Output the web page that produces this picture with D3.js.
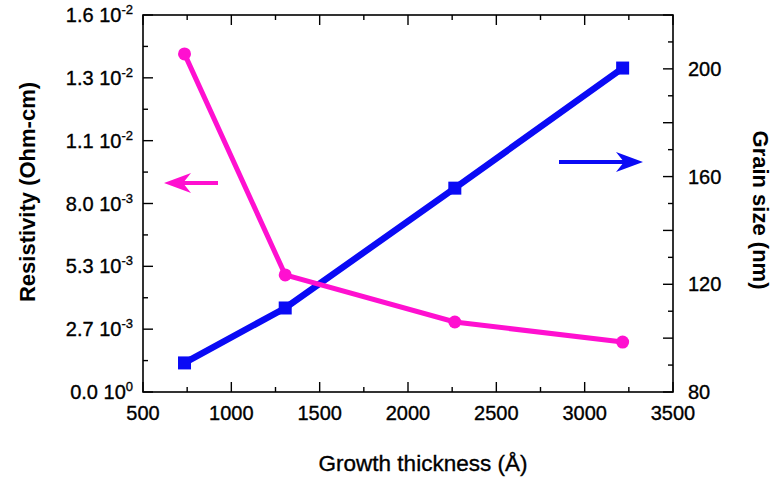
<!DOCTYPE html>
<html>
<head>
<meta charset="utf-8">
<script src="https://cdn.jsdelivr.net/npm/d3@7"></script>
<style>
  body { margin: 0; background: #fff; }
  svg { font-family: "Liberation Sans", Arial, sans-serif; }
  .lbl { stroke: #000; stroke-width: 0.35px; }
</style>
</head>
<body>
<svg id="chart" width="776" height="480"></svg>
<script>
"use strict";

// data
var thickness = [735, 1305, 2265, 3215];
var resistivity = [0.01435, 0.00497, 0.00297, 0.00212];
var grainSize = [90.8, 111.2, 155.7, 200.3];

// tick labels
var resTicks = [0, 0.016 / 6, 0.032 / 6, 0.008, 0.064 / 6, 0.080 / 6, 0.016];
var resLabels = [["0.0", "0"], ["2.7", "-3"], ["5.3", "-3"], ["8.0", "-3"],
                 ["1.1", "-2"], ["1.3", "-2"], ["1.6", "-2"]];
var grainTicks = [80, 120, 160, 200];
var xTicks = [500, 1000, 1500, 2000, 2500, 3000, 3500];

var pink = "#ff10d0";
var blue = "#0a0af5";

var svg = d3.select("#chart");
var plotL = 143, plotR = 673, plotT = 15, plotB = 392;

var x = d3.scaleLinear().domain([500, 3500]).range([plotL, plotR]);
var yL = d3.scaleLinear().domain([0, 0.016]).range([plotB, plotT]);
var yR = d3.scaleLinear().domain([80, 220]).range([plotB, plotT]);

var axisColor = "#000";

// frame
svg.append("rect")
  .attr("x", plotL).attr("y", plotT)
  .attr("width", plotR - plotL).attr("height", plotB - plotT)
  .attr("fill", "none").attr("stroke", axisColor).attr("stroke-width", 1.6);

function tickLine(x1, y1, x2, y2) {
  svg.append("line")
    .attr("x1", x1).attr("y1", y1).attr("x2", x2).attr("y2", y2)
    .attr("stroke", axisColor).attr("stroke-width", 1.4);
}

// x ticks, bottom and top
d3.range(500, 3501, 250).forEach(function(v) {
  var len = (v % 500 == 0) ? 10 : 5;
  tickLine(x(v), plotB, x(v), plotB - len);
  tickLine(x(v), plotT, x(v), plotT + len);
});

// left ticks
d3.range(0, 13).forEach(function(i) {
  var v = 0.016 * i / 12;
  var len = (i % 2 == 0) ? 10 : 5;
  tickLine(plotL, yL(v), plotL + len, yL(v));
});

// right ticks
d3.range(80, 221, 10).forEach(function(v) {
  var len = (v % 20 == 0) ? 10 : 5;
  tickLine(plotR, yR(v), plotR - len, yR(v));
});

// x tick labels
svg.selectAll(".xlab")
  .data(xTicks)
  .enter()
  .append("text")
  .attr("class", "xlab lbl")
  .attr("x", function(d) { return x(d); })
  .attr("y", 420)
  .attr("text-anchor", "middle")
  .style("font-size", "20px")
  .text(function(d) { return d; });

// left tick labels with power of ten
var lab = svg.selectAll(".ylab")
  .data(resTicks)
  .enter()
  .append("text")
  .attr("class", "ylab lbl")
  .attr("x", 133)
  .attr("y", function(d) { return yL(d) + 7; })
  .attr("text-anchor", "end")
  .style("font-size", "20px");
lab.append("tspan").text(function(d, i) { return resLabels[i][0] + " 10"; });
lab.append("tspan")
  .attr("dy", -8)
  .style("font-size", "13px")
  .text(function(d, i) { return resLabels[i][1]; });

// right tick labels
svg.selectAll(".rlab")
  .data(grainTicks)
  .enter()
  .append("text")
  .attr("class", "rlab lbl")
  .attr("x", 688)
  .attr("y", function(d) { return yR(d) + 7; })
  .style("font-size", "20px")
  .text(function(d) { return d; });

// axis titles
svg.append("text")
  .attr("class", "lbl")
  .attr("x", 423).attr("y", 471)
  .attr("text-anchor", "middle")
  .style("font-size", "22.5px")
  .text("Growth thickness (Å)");

svg.append("text")
  .attr("transform", "translate(35,192) rotate(-90)")
  .attr("text-anchor", "middle")
  .style("font-size", "22px").style("font-weight", "bold")
  .text("Resistivity (Ohm-cm)");

svg.append("text")
  .attr("transform", "translate(753,210) rotate(90)")
  .attr("text-anchor", "middle")
  .style("font-size", "22px").style("font-weight", "bold")
  .text("Grain size (nm)");

// series
var resData = thickness.map(function(t, i) { return [t, resistivity[i]]; });
var grainData = thickness.map(function(t, i) { return [t, grainSize[i]]; });

svg.append("path")
  .datum(grainData)
  .attr("fill", "none").attr("stroke", blue).attr("stroke-width", 6.5)
  .attr("d", d3.line().x(function(d) { return x(d[0]); }).y(function(d) { return yR(d[1]); }));

svg.selectAll(".sq")
  .data(grainData)
  .enter()
  .append("rect")
  .attr("class", "sq")
  .attr("x", function(d) { return x(d[0]) - 6.5; })
  .attr("y", function(d) { return yR(d[1]) - 6.5; })
  .attr("width", 13).attr("height", 13)
  .attr("fill", blue);

svg.append("path")
  .datum(resData)
  .attr("fill", "none").attr("stroke", pink).attr("stroke-width", 5)
  .attr("d", d3.line().x(function(d) { return x(d[0]); }).y(function(d) { return yL(d[1]); }));

svg.selectAll(".dot")
  .data(resData)
  .enter()
  .append("circle")
  .attr("class", "dot")
  .attr("cx", function(d) { return x(d[0]); })
  .attr("cy", function(d) { return yL(d[1]); })
  .attr("r", 6.5)
  .attr("fill", pink);

// arrows pointing at the axes
function arrow(x1, x2, y, color) {
  var dir = x2 > x1 ? 1 : -1;
  svg.append("line")
    .attr("x1", x1).attr("y1", y).attr("x2", x2 - dir * 10).attr("y2", y)
    .attr("stroke", color).attr("stroke-width", 4);
  svg.append("path")
    .attr("d", "M" + x2 + "," + y +
               "L" + (x2 - dir * 27) + "," + (y - 10) +
               "L" + (x2 - dir * 19) + "," + y +
               "L" + (x2 - dir * 27) + "," + (y + 10) + "Z")
    .attr("fill", color);
}
arrow(218, 164, 183, pink);
arrow(559, 643, 162, blue);
</script>
</body>
</html>
